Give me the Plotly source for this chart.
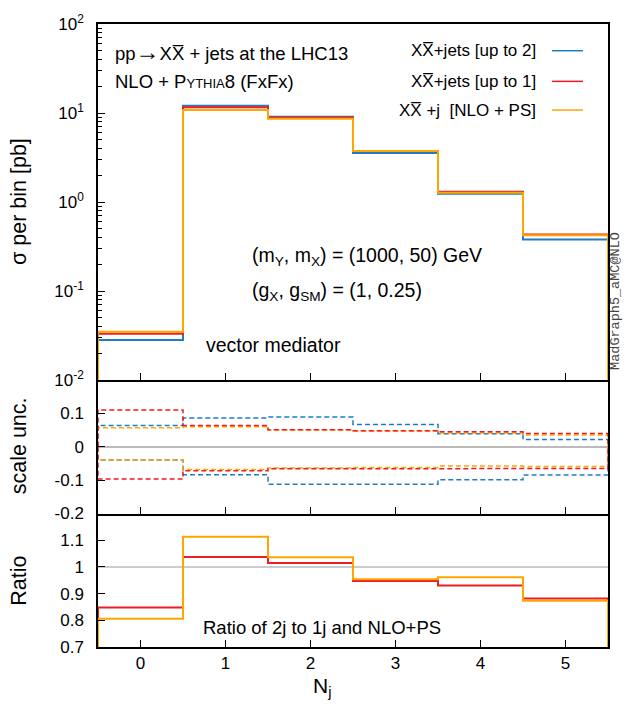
import plotly.graph_objects as go

# ---------------- data ----------------
nj = [0, 1, 2, 3, 4, 5]
xtick_labels = ["0", "1", "2", "3", "4", "5"]

xsec_upto2 = [0.0281, 12.05, 9.1, 3.55, 1.24, 0.378]
xsec_upto1 = [0.0330, 11.6, 8.9, 3.75, 1.30, 0.430]
xsec_nlops = [0.0348, 10.8, 8.6, 3.75, 1.27, 0.423]

scale_up_upto2 = [0.064, 0.086, 0.089, 0.067, 0.039, 0.022]
scale_dn_upto2 = [-0.040, -0.084, -0.112, -0.112, -0.099, -0.085]
scale_up_upto1 = [0.110, 0.064, 0.051, 0.048, 0.045, 0.040]
scale_dn_upto1 = [-0.097, -0.072, -0.066, -0.066, -0.064, -0.065]
scale_up_nlops = [0.057, 0.060, 0.050, 0.047, 0.041, 0.035]
scale_dn_nlops = [-0.040, -0.068, -0.064, -0.062, -0.058, -0.059]

ratio_2j_1j = [0.848, 1.037, 1.015, 0.947, 0.930, 0.882]
ratio_2j_nlops = [0.806, 1.113, 1.036, 0.954, 0.961, 0.873]

series_names = ["XX̅+jets [up to 2]", "XX̅+jets [up to 1]", "XX̅ +j  [NLO + PS]"]

# ---------------- style ----------------
BLUE = "#1f7cc2"
RED = "#ee1c25"
ORANGE = "#ffa500"
FONT = "Liberation Sans, Arial, Helvetica, sans-serif"
MONO = "Liberation Mono, DejaVu Sans Mono, monospace"

W, H = 626, 707
ML, MR, MT, MB = 98, 18, 17, 60
PW = W - ML - MR
PH = H - MT - MB


def px(x):
    return (x - ML) / PW


def py(y):
    return (H - MB - y) / PH


edges = [n - 0.5 for n in nj] + [nj[-1] + 0.5]


def steps(vals, base):
    xs = [edges[0]]
    ys = [base]
    for i, v in enumerate(vals):
        xs += [edges[i], edges[i + 1]]
        ys += [v, v]
    xs.append(edges[-1])
    ys.append(base)
    return xs, ys


fig = go.Figure()

# top panel (log)
log_range = [-2, 2]
log_base = 10 ** (log_range[0] - 2)
for vals, col in [(xsec_upto2, BLUE), (xsec_upto1, RED), (xsec_nlops, ORANGE)]:
    xs, ys = steps(vals, log_base)
    fig.add_trace(go.Scatter(x=xs, y=ys, mode="lines", line=dict(color=col, width=2),
                             xaxis="x", yaxis="y", showlegend=False, hoverinfo="skip"))

# middle panel (scale unc.)
for vals, col in [(scale_up_upto2, BLUE), (scale_dn_upto2, BLUE),
                  (scale_up_nlops, ORANGE), (scale_dn_nlops, ORANGE),
                  (scale_up_upto1, RED), (scale_dn_upto1, RED)]:
    xs, ys = steps(vals, 0)
    fig.add_trace(go.Scatter(x=xs, y=ys, mode="lines",
                             line=dict(color=col, width=1.5, dash="5px,3px"),
                             xaxis="x2", yaxis="y2", showlegend=False, hoverinfo="skip"))

# bottom panel (ratio)
for vals, col in [(ratio_2j_1j, RED), (ratio_2j_nlops, ORANGE)]:
    xs, ys = steps(vals, 0)
    fig.add_trace(go.Scatter(x=xs, y=ys, mode="lines", line=dict(color=col, width=2),
                             xaxis="x3", yaxis="y3", showlegend=False, hoverinfo="skip"))

d_top = [py(377), 1.0]
d_mid = [py(512), py(377)]
d_bot = [0.0, py(512)]

xcommon = dict(range=[edges[0], edges[-1]], showline=True, linecolor="black",
               linewidth=1.5, ticks="inside", ticklen=7, tickwidth=1, tickcolor="black",
               tickvals=nj, ticktext=xtick_labels, showgrid=False, zeroline=False,
               tickfont=dict(family=FONT, size=17, color="black"))
ycommon = dict(showline=True, mirror=True, linecolor="black", linewidth=1.5,
               ticks="inside", ticklen=7, tickwidth=1, tickcolor="black",
               ticklabelstandoff=9,
               showgrid=False, tickfont=dict(family=FONT, size=17, color="black"))

decades = [-2, -1, 0, 1, 2]
minor_vals = [m * 10 ** d for d in decades[:-1] for m in range(2, 10)]

fig.update_layout(
    width=W, height=H,
    margin=dict(l=ML, r=MR, t=MT, b=MB),
    plot_bgcolor="white", paper_bgcolor="white",
    font=dict(family=FONT, size=17, color="black"),
    xaxis=dict(**xcommon, domain=[0, 1], anchor="y", mirror=True, showticklabels=False),
    xaxis2=dict(**xcommon, domain=[0, 1], anchor="y2", mirror=False, matches="x",
                showticklabels=False),
    xaxis3=dict(**xcommon, domain=[0, 1], anchor="y3", mirror=False, matches="x",
                showticklabels=True),
    yaxis=dict(**ycommon, type="log", range=log_range, domain=d_top, anchor="x",
               tickvals=[10 ** d for d in decades],
               ticktext=["10<sup>%d</sup>" % d for d in decades],
               zeroline=False,
               minor=dict(tickvals=minor_vals, ticks="inside", ticklen=4,
                          tickcolor="black", tickwidth=1, showgrid=False)),
    yaxis2=dict(**ycommon, range=[-0.2, 0.2], domain=d_mid, anchor="x2",
                tickvals=[-0.2, -0.1, 0, 0.1], ticktext=["-0.2", "-0.1", "0", "0.1"],
                zeroline=True, zerolinecolor="#bbbbbb", zerolinewidth=1.5),
    yaxis3=dict(**ycommon, range=[0.7, 1.2], domain=d_bot, anchor="x3",
                tickvals=[0.7, 0.8, 0.9, 1.0, 1.1], ticktext=["0.7", "0.8", "0.9", "1", "1.1"],
                zeroline=False),
)

# reference line at 1 in ratio panel
fig.add_shape(type="line", xref="x3 domain", yref="y3", x0=0, x1=1, y0=1, y1=1,
              line=dict(color="#bbbbbb", width=1.5), layer="below")

ann = []


def text(x, y, s, size=18, xanchor="left", angle=0, family=FONT, color="black"):
    ann.append(dict(x=px(x), y=py(y), xref="paper", yref="paper", text=s, showarrow=False,
                    xanchor=xanchor, yanchor="middle", textangle=angle,
                    font=dict(family=family, size=size, color=color)))


text(113, 45, "pp<span style='font-size:24px'>→</span>XX̅ + jets at the LHC13", size=18.5)
text(113, 75, "NLO + P<span style='font-size:13px'>YTHIA</span>8 (FxFx)", size=18.5)

legend_y = [44, 75, 104]
for name, col, yy in zip(series_names, [BLUE, RED, ORANGE], legend_y):
    text(538, yy, name, size=17, xanchor="right")
    fig.add_shape(type="line", xref="paper", yref="paper", x0=px(552), x1=px(583),
                  y0=py(yy), y1=py(yy), line=dict(color=col, width=1.5))

text(250, 252, "(m<sub>Y</sub>, m<sub>X</sub>) = (1000, 50) GeV", size=19.5)
text(250, 287, "(g<sub>X</sub>, g<sub>SM</sub>) = (1, 0.25)", size=19.5)
text(204, 342, "vector mediator", size=19.5)
text(322, 627, "Ratio of 2j to 1j and NLO+PS", size=18.5, xanchor="center")

text(616, 297, "MadGraph5_aMC@NLO", size=13.5, xanchor="center", angle=-90,
     family=MONO, color="#444444")

text(19, 197, "σ per bin [pb]", size=21.5, xanchor="center", angle=-90)
text(19, 444, "scale unc.", size=21.5, xanchor="center", angle=-90)
text(19, 580, "Ratio", size=21.5, xanchor="center", angle=-90)
text(322, 687, "N<sub>j</sub>", size=21, xanchor="center")

fig.update_layout(annotations=ann)

fig.write_html("out.html", config={"displayModeBar": False},
               post_script="document.body.style.margin='0';document.body.style.overflow='hidden';")
